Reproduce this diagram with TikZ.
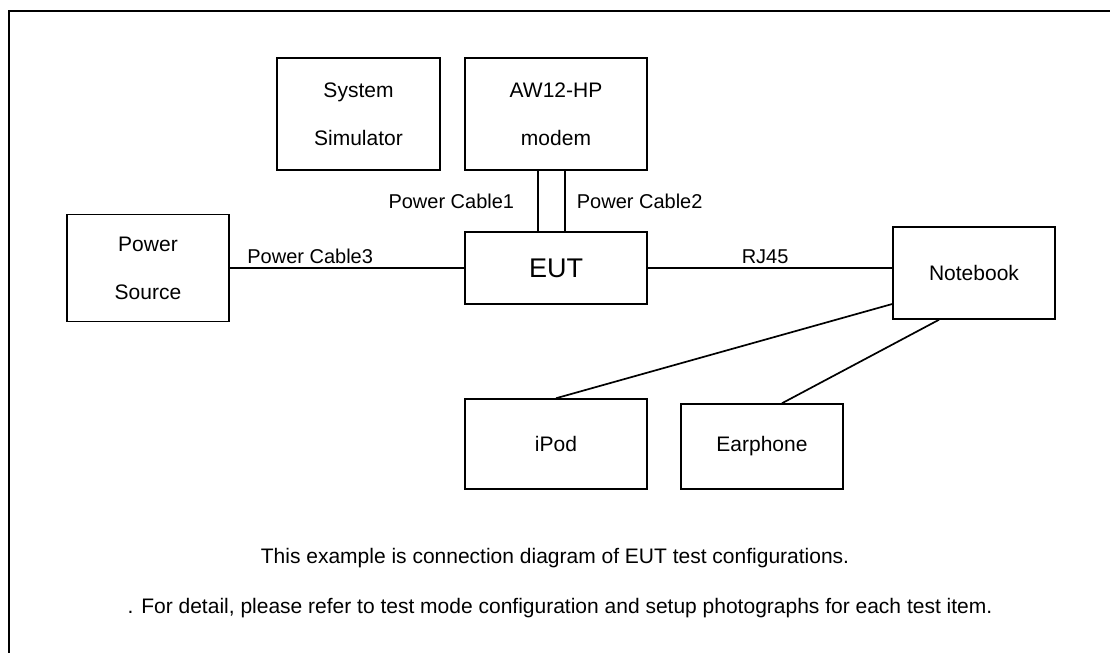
\documentclass[tikz,border=0pt]{standalone}
\usepackage{fontspec}
\setmainfont{Liberation Sans}
\begin{document}
\begin{tikzpicture}[x=0.5pt,y=-0.5pt,line width=0.85pt,
            box/.style={rectangle,draw,line width=0.75pt,inner sep=0pt,align=center,
                font=\fontsize{10.5}{24}\selectfont},
            cable label/.style={inner sep=0pt,font=\fontsize{10}{12}\selectfont}]

        \useasboundingbox (0,0) rectangle (1110,653);

        % Frame
        \draw[line width=1.4pt] (9,653) -- (9,11) -- (1110,11);

        % Define devices
        \node[box,minimum width=81.5pt,minimum height=56pt] (sim) at (358.5,114) {System\\Simulator};
        \node[box,minimum width=91pt,minimum height=56pt] (modem) at (556,114) {AW12-HP\\modem};
        \node[box,minimum width=91pt,minimum height=36pt,font=\fontsize{13.5}{17}\selectfont] (eut) at (556,268) {EUT};
        \node[box,minimum width=81pt,minimum height=53.5pt] (power) at (148,268) {Power\\Source};
        \node[box,minimum width=81pt,minimum height=46pt] (notebook) at (974,273) {Notebook};
        \node[box,minimum width=91pt,minimum height=45pt] (ipod) at (556,444) {iPod};
        \node[box,minimum width=81pt,minimum height=42.5pt] (earphone) at (762,446.5) {Earphone};

        % Draw cables
        \draw ([xshift=-9pt]modem.south) -- ([xshift=-9pt]eut.north)
            node[cable label,midway,left=11.5pt] {Power Cable1};
        \draw ([xshift=4.5pt]modem.south) -- ([xshift=4.5pt]eut.north)
            node[cable label,midway,right=5.5pt] {Power Cable2};
        \draw (power.east) -- (eut.west)
            node[cable label,pos=0.343,above=1.75pt] {Power Cable3};
        \draw (eut.east) -- (eut.east -| notebook.west)
            node[cable label,pos=0.48,above=1.75pt] {RJ45};
        \draw ([yshift=-15.5pt]notebook.west) -- (ipod.north);
        \draw ([xshift=-17.5pt]notebook.south) -- ([xshift=10pt]earphone.north);

        % Notes
        \node[cable label,font=\fontsize{10.5}{12}\selectfont] (note1) at (555,558) {This example is connection diagram of EUT test configurations.};
        \node[cable label,font=\fontsize{10.5}{12}\selectfont] (note2) at (560,608) {. For detail, please refer to test mode configuration and setup photographs for each test item.};

\end{tikzpicture}
\end{document}
